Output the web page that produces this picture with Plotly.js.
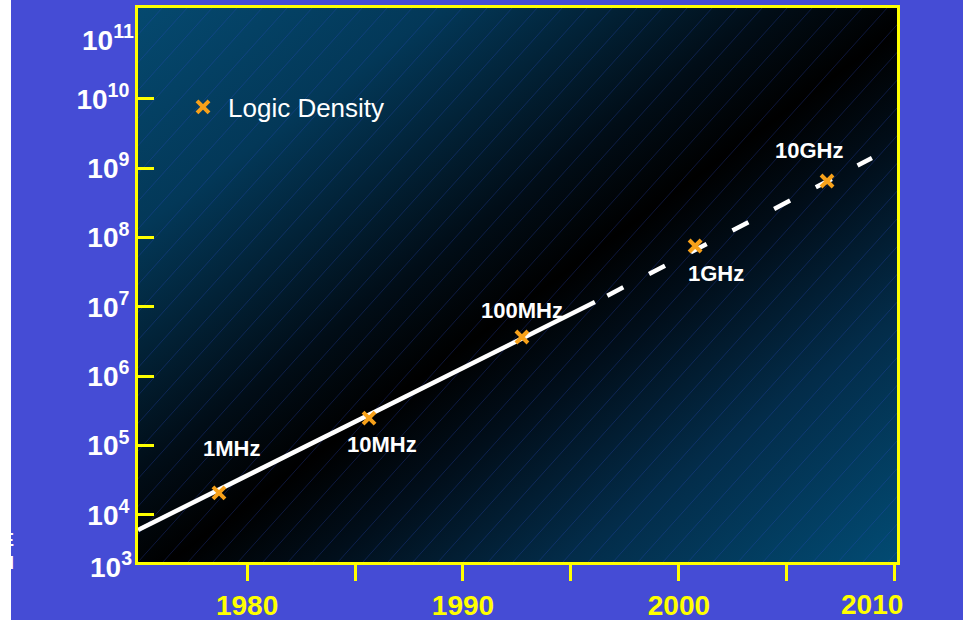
<!DOCTYPE html>
<html>
<head>
<meta charset="utf-8">
<script src="https://cdn.plot.ly/plotly-3.0.1.min.js"></script>
<style>html,body{margin:0;padding:0;background:#fff;}#chart{width:963px;height:620px;}</style>
</head>
<body>
<div id="chart"></div>
<script>
// ---- data ----
const pointYears   = [1978.70, 1985.65, 1992.73, 2000.75, 2006.86];
const pointDensity = [2.07e4, 2.49e5, 3.67e6, 7.55e7, 6.53e8];
const clockLabels  = ['1MHz', '10MHz', '100MHz', '1GHz', '10GHz'];
const trendSolidYears  = [1974.95, 1996.11];
const trendSolidValues = [6.05e3, 1.17e7];
const trendDashYears   = [1996.11, 2008.94];
const trendDashValues  = [1.17e7, 1.40e9];
const yTickVals  = [1e4, 1e5, 1e6, 1e7, 1e8, 1e9, 1e10];
const yTickText  = ['10<sup>4</sup>','10<sup>5</sup>','10<sup>6</sup>','10<sup>7</sup>','10<sup>8</sup>','10<sup>9</sup>','10<sup>10</sup>'];
const xTickVals  = [1980, 1990, 2000];
const xTickText  = ['1980', '1990', '2000'];
const xMinorVals = [1985, 1995, 2005, 2010];
const seriesName = 'Logic Density';

// ---- styling ----
const FONT = 'Liberation Sans, Arial, Helvetica, sans-serif';
const YELLOW = '#ffff00';
const ORANGE = '#f7a11a';
const BLUE = '#454cd5';
const labelShift = [[13, 44], [13, -26], [0, 27], [21, -28], [-18, 31]];

// background: diagonal gradient + thin hatching
const W = 759, H = 554;
let hatch = '';
for (let x0 = -600; x0 < W + 20; x0 += 25) {
  hatch += `M${x0},${H} L${(x0 + H / 1.11).toFixed(1)},0 `;
}
const svg = `<svg xmlns='http://www.w3.org/2000/svg' width='${W}' height='${H}' viewBox='0 0 ${W} ${H}' preserveAspectRatio='none'>
<defs><linearGradient id='g' x1='0' y1='0' x2='1' y2='1'>
<stop offset='0' stop-color='#05496f'/>
<stop offset='0.2' stop-color='#033858'/>
<stop offset='0.42' stop-color='#010d17'/>
<stop offset='0.52' stop-color='#000000'/>
<stop offset='0.62' stop-color='#010e1a'/>
<stop offset='0.78' stop-color='#032c49'/>
<stop offset='1' stop-color='#024b73'/>
</linearGradient></defs>
<rect x='0' y='0' width='${W}' height='${H}' fill='url(#g)'/>
<path d='${hatch}' stroke='#3150d0' stroke-opacity='0.28' stroke-width='1' fill='none'/>
</svg>`;
const bgURI = 'data:image/svg+xml;charset=utf-8,' + encodeURIComponent(svg);

const traces = [
  { x: trendSolidYears, y: trendSolidValues, mode: 'lines', showlegend: false, hoverinfo: 'skip',
    line: { color: '#ffffff', width: 4.5 } },
  { x: trendDashYears, y: trendDashValues, mode: 'lines', showlegend: false, hoverinfo: 'skip',
    line: { color: '#ffffff', width: 4.5, dash: '0px,14px,18px,15px' } },
  { x: pointYears, y: pointDensity, mode: 'markers', name: seriesName,
    marker: { symbol: 'x-thin', size: 12, color: ORANGE, line: { color: ORANGE, width: 4 } } }
];

const annotations = clockLabels.map((t, i) => ({
  x: pointYears[i], y: Math.log10(pointDensity[i]), xref: 'x', yref: 'y',
  text: t, showarrow: false, xshift: labelShift[i][0], yshift: labelShift[i][1],
  font: { family: FONT, size: 22, color: '#ffffff', weight: 'bold' }
}));
annotations.push(
  { x: (134 - 138) / W, y: 0, xref: 'paper', yref: 'paper', xanchor: 'right', yanchor: 'middle',
    yshift: -3, text: '10<sup>3</sup>', showarrow: false,
    font: { family: FONT, size: 28, color: '#ffffff', weight: 'bold' } },
  { x: (136 - 138) / W, y: (562 - 38) / H, xref: 'paper', yref: 'paper', xanchor: 'right', yanchor: 'middle',
    text: '10<sup>11</sup>', showarrow: false,
    font: { family: FONT, size: 28, color: '#ffffff', weight: 'bold' } },
  { x: 2008.93, y: (562 - 604) / H, xref: 'x', yref: 'paper', xanchor: 'center', yanchor: 'middle',
    text: '2010', showarrow: false,
    font: { family: FONT, size: 28, color: YELLOW, weight: 'bold' } },
  { x: (16 - 138) / W, y: (562 - 540) / H, xref: 'paper', yref: 'paper', xanchor: 'right', yanchor: 'middle',
    text: 'E', showarrow: false, font: { family: FONT, size: 18, color: '#ffffff', weight: 'bold' } },
  { x: (16 - 138) / W, y: (562 - 563) / H, xref: 'paper', yref: 'paper', xanchor: 'right', yanchor: 'middle',
    text: 'H', showarrow: false, font: { family: FONT, size: 18, color: '#ffffff', weight: 'bold' } }
);

const layout = {
  width: 963, height: 620,
  margin: { l: 138, r: 66, t: 8, b: 58, pad: 0 },
  paper_bgcolor: BLUE,
  plot_bgcolor: 'rgba(0,0,0,0)',
  font: { family: FONT, color: '#ffffff' },
  images: [{ source: bgURI, xref: 'paper', yref: 'paper', x: 0, y: 1, sizex: 1, sizey: 1,
             xanchor: 'left', yanchor: 'top', sizing: 'stretch', layer: 'below' }],
  shapes: [{ type: 'rect', xref: 'paper', yref: 'paper', x0: -0.3, x1: (11 - 138) / W, y0: -0.3, y1: 1.3,
             fillcolor: '#ffffff', line: { width: 0 }, layer: 'below' }],
  xaxis: {
    range: [1974.95, 2010.1], showgrid: false, zeroline: false,
    showline: true, linecolor: YELLOW, linewidth: 3, mirror: true,
    ticks: 'outside', ticklen: 16, tickwidth: 3, tickcolor: YELLOW,
    tickvals: xTickVals, ticktext: xTickText,
    minor: { tickvals: xMinorVals, ticks: 'outside', ticklen: 16, tickwidth: 3, tickcolor: YELLOW, showgrid: false },
    tickfont: { family: FONT, size: 28, color: YELLOW, weight: 'bold' }
  },
  yaxis: {
    type: 'log', range: [3.32, 11.31], showgrid: false, zeroline: false,
    showline: true, linecolor: YELLOW, linewidth: 3, mirror: true,
    ticks: 'inside', ticklen: 16, tickwidth: 3, tickcolor: YELLOW,
    tickvals: yTickVals, ticktext: yTickText,
    tickfont: { family: FONT, size: 28, color: '#ffffff', weight: 'bold' }
  },
  showlegend: true,
  legend: { x: (178 - 138) / W, y: (562 - 107) / H, xanchor: 'left', yanchor: 'middle',
            itemwidth: 40,
            bgcolor: 'rgba(0,0,0,0)', borderwidth: 0,
            font: { family: FONT, size: 26, color: '#ffffff' } },
  annotations: annotations
};

Plotly.newPlot('chart', traces, layout, { displayModeBar: false, staticPlot: true });
</script>
</body>
</html>
